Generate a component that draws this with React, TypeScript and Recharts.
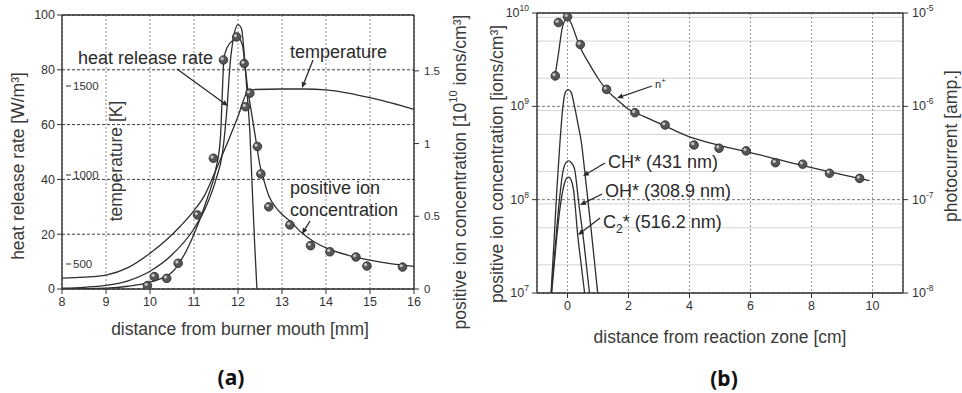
import React from 'react';
import { CartesianGrid, ComposedChart, Line, Scatter, XAxis, YAxis } from 'recharts';

const FONT = '"Liberation Sans", Arial, sans-serif';
const INK = '#333';

// ---- (a) distance from burner mouth [mm] ----
const heatX = [8, 8.5, 9, 9.5, 10, 10.5, 11, 11.3, 11.5, 11.65, 11.75, 11.82, 11.9, 12.0, 12.08, 12.14, 12.2, 12.27, 12.32, 12.38, 12.43];
const heatRate = [0.3, 0.6, 1.3, 3, 6.5, 12.5, 22, 31, 40, 50, 66, 82, 92, 96.5, 95, 86, 73, 57, 38, 16, 0];

const tempX = [8, 8.5, 9, 9.5, 10, 10.35, 10.7, 11, 11.25, 11.5, 11.75, 12.0, 12.22, 12.35, 13, 13.5, 14, 14.5, 15, 15.5, 16];
const tempK = [421, 426, 438, 480, 560, 630, 715, 800, 890, 1029, 1175, 1329, 1468, 1480, 1483, 1483, 1478, 1460, 1434, 1403, 1368];

const ionFitX = [8, 9, 9.5, 10, 10.5, 11, 11.3, 11.5, 11.6, 11.64, 11.68, 11.75, 11.9, 12.0, 12.1, 12.17, 12.23, 12.3, 12.4, 12.5, 12.6, 12.7, 12.9, 13.2, 13.45, 13.7, 14, 14.5, 15, 15.5, 16];
const ionFit = [0, 0.006, 0.019, 0.047, 0.115, 0.377, 0.622, 0.829, 1.036, 1.319, 1.583, 1.658, 1.714, 1.729, 1.677, 1.507, 1.356, 1.225, 1.036, 0.848, 0.735, 0.641, 0.546, 0.462, 0.386, 0.33, 0.283, 0.232, 0.198, 0.173, 0.156];

const ionPtX = [9.94, 10.1, 10.38, 10.64, 11.08, 11.44, 11.67, 11.97, 12.14, 12.17, 12.27, 12.44, 12.52, 12.7, 13.18, 13.65, 14.09, 14.68, 14.93, 15.74];
const ionPt = [0.023, 0.085, 0.073, 0.177, 0.509, 0.899, 1.575, 1.733, 1.55, 1.253, 1.347, 0.98, 0.791, 0.565, 0.441, 0.298, 0.256, 0.22, 0.158, 0.151];

const aTicks = [8, 9, 10, 11, 12, 13, 14, 15, 16];
const aMinorX = [8.5, 9.5, 10.5, 11.5, 12.5, 13.5, 14.5, 15.5];
const heatTicks = [0, 20, 40, 60, 80, 100];
const heatMinor = [10, 30, 50, 70, 90];
const ionTicks = [0, 0.5, 1, 1.5];
const ionMinor = [0.25, 0.75, 1.25, 1.75];
const tempTicks = [500, 1000, 1500];

// ---- (b) distance from reaction zone [cm] ----
const nFitX = [-0.43, -0.3, -0.16, 0, 0.1, 0.25, 0.4, 0.7, 1.0, 1.28, 1.6, 2.0, 2.5, 3, 4, 5, 6, 7, 8, 9, 9.9];
const nFit = [1.9e9, 3.6e9, 7.2e9, 8.8e9, 8.0e9, 6.0e9, 4.4e9, 2.9e9, 2.0e9, 1.5e9, 1.2e9, 9.3e8, 7.8e8, 6.6e8, 4.7e8, 3.8e8, 3.2e8, 2.65e8, 2.2e8, 1.85e8, 1.6e8];

const nPtX = [-0.4, -0.3, 0.0, 0.42, 1.28, 2.21, 3.2, 4.15, 4.97, 5.86, 6.82, 7.71, 8.59, 9.58];
const nPt = [2.12e9, 7.9e9, 9.1e9, 4.6e9, 1.52e9, 8.55e8, 6.3e8, 3.85e8, 3.56e8, 3.33e8, 2.49e8, 2.4e8, 1.92e8, 1.69e8];

const chX = [-0.54, -0.45, -0.35, -0.25, -0.15, -0.07, 0.02, 0.12, 0.23, 0.35, 0.45, 0.6, 0.8, 0.99];
const chAmp = [1.0e-8, 3.2e-8, 1.26e-7, 4.0e-7, 1.0e-6, 1.41e-6, 1.51e-6, 1.41e-6, 1.0e-6, 6.3e-7, 4.2e-7, 1.58e-7, 4.0e-8, 1.0e-8];
const ohX = [-0.53, -0.4, -0.28, -0.15, -0.05, 0.03, 0.12, 0.23, 0.37, 0.55, 0.72];
const ohAmp = [1.0e-8, 3.2e-8, 8.9e-8, 2.0e-7, 2.5e-7, 2.6e-7, 2.5e-7, 2.14e-7, 9.1e-8, 3.2e-8, 1.0e-8];
const c2X = [-0.52, -0.38, -0.25, -0.12, -0.03, 0.04, 0.12, 0.2, 0.34, 0.45, 0.56];
const c2Amp = [1.0e-8, 3.2e-8, 7.9e-8, 1.41e-7, 1.7e-7, 1.74e-7, 1.62e-7, 1.26e-7, 4.0e-8, 2.0e-8, 1.0e-8];

const bTicks = [0, 2, 4, 6, 8, 10];
const bMinorX = [-1, 1, 3, 5, 7, 9, 11];
const bTopX = [-1, 0, 1, 2, 3, 4, 5, 6, 7, 8, 9, 10, 11];
const ionDecades = [1e7, 1e8, 1e9, 1e10];
const ampDecades = [1e-8, 1e-7, 1e-6, 1e-5];
const mults = [2, 3, 4, 5, 6, 7, 8, 9];
const ionLogMinor = [7, 8, 9].flatMap((e) => mults.map((m) => m * 10 ** e));
const ampLogMinor = [-8, -7, -6].flatMap((e) => mults.map((m) => m * 10 ** e));

const zip = (xs: number[], ys: number[]) => xs.map((x, i) => ({ x, y: ys[i] }));

const tickStyle = { fontSize: 12.5, fill: INK, fontFamily: FONT };
const axisLine = { stroke: INK, strokeWidth: 1.4 };
const tickLine = { stroke: INK, strokeWidth: 1 };

const Ball = (props: any) => {
  const { cx, cy } = props;
  if (cx == null || cy == null) return null;
  return (
    <g>
      <circle cx={cx} cy={cy} r={4.3} fill="#565656" stroke="#262626" strokeWidth={0.8} />
      <circle cx={cx - 1.3} cy={cy - 1.3} r={1.6} fill="#c4c4c4" />
    </g>
  );
};

const TTick = (p: any) => (
  <g>
    <line x1={p.x + 3} x2={p.x + 8} y1={p.y} y2={p.y} stroke={INK} />
    <text x={p.x + 10} y={p.y} dy={4} fontSize={11.5} fill={INK} fontFamily={FONT}>{p.payload.value}</text>
  </g>
);

const PowTick = (p: any) => {
  const e = Math.round(Math.log10(p.payload.value));
  return (
    <text x={p.x} y={p.y} dy={4} textAnchor={p.textAnchor} fontSize={12.5} fill={INK} fontFamily={FONT}>
      10<tspan dy={-6} fontSize={8.5}>{e}</tspan>
    </text>
  );
};

const Arrow = ({ x1, y1, x2, y2 }: { x1: number; y1: number; x2: number; y2: number }) => {
  const a = Math.atan2(y2 - y1, x2 - x1);
  const L = 6, W = 2.6;
  const bx = x2 - L * Math.cos(a), by = y2 - L * Math.sin(a);
  const px = -Math.sin(a) * W, py = Math.cos(a) * W;
  return (
    <g>
      <line x1={x1} y1={y1} x2={bx} y2={by} stroke="#2a2a2a" strokeWidth={1.3} />
      <polygon points={`${x2},${y2} ${bx + px},${by + py} ${bx - px},${by - py}`} fill="#2a2a2a" />
    </g>
  );
};

const ChartA = () => (
  <ComposedChart width={480} height={393} margin={{ top: 15, right: 26, bottom: 74, left: 22 }}>
    <CartesianGrid xAxisId="x" yAxisId="L" vertical={false} stroke="#3a3a3a" strokeDasharray="3 2" />
    <CartesianGrid xAxisId="x" yAxisId="L" horizontal={false} stroke="#8a8a8a" strokeDasharray="2 2" />
    <XAxis xAxisId="x" dataKey="x" type="number" domain={[8, 16]} allowDataOverflow ticks={aTicks} height={30}
      tickSize={5} tickMargin={3} axisLine={axisLine} tickLine={tickLine} tick={tickStyle} />
    <XAxis xAxisId="xm" type="number" domain={[8, 16]} allowDataOverflow ticks={aMinorX} mirror height={1}
      tick={false} axisLine={false} tickSize={4} tickLine={tickLine} />
    <XAxis xAxisId="top" orientation="top" type="number" domain={[8, 16]} allowDataOverflow ticks={aTicks} mirror height={1}
      tick={false} axisLine={axisLine} tickSize={4} tickLine={tickLine} />
    <YAxis yAxisId="L" type="number" domain={[0, 100]} allowDataOverflow ticks={heatTicks} width={40}
      tickSize={5} tickMargin={2} axisLine={axisLine} tickLine={tickLine} tick={tickStyle} />
    <YAxis yAxisId="Lm" type="number" domain={[0, 100]} allowDataOverflow ticks={heatMinor} mirror width={1}
      tick={false} axisLine={false} tickSize={4} tickLine={tickLine} />
    <YAxis yAxisId="R" orientation="right" type="number" domain={[0, 1.884]} allowDataOverflow ticks={ionTicks} width={40}
      tickSize={5} tickMargin={5} axisLine={axisLine} tickLine={tickLine} tick={{ ...tickStyle, fontSize: 11.5 }} />
    <YAxis yAxisId="Rm" orientation="right" type="number" domain={[0, 1.884]} allowDataOverflow ticks={ionMinor} mirror width={1}
      tick={false} axisLine={false} tickSize={4} tickLine={tickLine} />
    <YAxis yAxisId="T" type="number" domain={[359.6, 1898.6]} allowDataOverflow ticks={tempTicks} mirror width={1}
      axisLine={false} tickLine={false} tickSize={0} tickMargin={0} tick={TTick} />
    <Line xAxisId="x" yAxisId="T" data={zip(tempX, tempK)} dataKey="y" type="monotone" stroke="#2e2e2e" strokeWidth={1.3} dot={false} isAnimationActive={false} />
    <Line xAxisId="x" yAxisId="L" data={zip(heatX, heatRate)} dataKey="y" type="monotone" stroke="#2e2e2e" strokeWidth={1.3} dot={false} isAnimationActive={false} />
    <Line xAxisId="x" yAxisId="R" data={zip(ionFitX, ionFit)} dataKey="y" type="monotone" stroke="#2e2e2e" strokeWidth={1.3} dot={false} isAnimationActive={false} />
    <Scatter xAxisId="x" yAxisId="R" data={zip(ionPtX, ionPt)} dataKey="y" shape={Ball} isAnimationActive={false} />
  </ComposedChart>
);

const ChartB = () => (
  <ComposedChart width={482} height={393} margin={{ top: 13, right: 19, bottom: 70, left: 17 }}>
    <CartesianGrid xAxisId="x" yAxisId="L" vertical={false} horizontalValues={ionLogMinor} stroke="#d2d2d2" />
    <CartesianGrid xAxisId="x" yAxisId="L" vertical={false} stroke="#777" strokeDasharray="3 2" />
    <CartesianGrid xAxisId="x" yAxisId="L" horizontal={false} stroke="#999" strokeDasharray="2 2" />
    <XAxis xAxisId="x" dataKey="x" type="number" domain={[-1, 11]} allowDataOverflow ticks={bTicks} height={30}
      tickSize={5} tickMargin={3} axisLine={axisLine} tickLine={tickLine} tick={tickStyle} />
    <XAxis xAxisId="xm" type="number" domain={[-1, 11]} allowDataOverflow ticks={bMinorX} mirror height={1}
      tick={false} axisLine={false} tickSize={4} tickLine={tickLine} />
    <XAxis xAxisId="top" orientation="top" type="number" domain={[-1, 11]} allowDataOverflow ticks={bTopX} mirror height={1}
      tick={false} axisLine={axisLine} tickSize={4} tickLine={tickLine} />
    <YAxis yAxisId="L" type="number" scale="log" domain={[1e7, 1e10]} allowDataOverflow ticks={ionDecades} width={40}
      tickSize={5} tickMargin={3} axisLine={axisLine} tickLine={tickLine} tick={PowTick} />
    <YAxis yAxisId="Lm" type="number" scale="log" domain={[1e7, 1e10]} allowDataOverflow ticks={ionLogMinor} mirror width={1}
      tick={false} axisLine={false} tickSize={4} tickLine={tickLine} />
    <YAxis yAxisId="R" orientation="right" type="number" scale="log" domain={[1e-8, 1e-5]} allowDataOverflow ticks={ampDecades} width={40}
      tickSize={5} tickMargin={4} axisLine={axisLine} tickLine={tickLine} tick={PowTick} />
    <YAxis yAxisId="Rm" orientation="right" type="number" scale="log" domain={[1e-8, 1e-5]} allowDataOverflow ticks={ampLogMinor} mirror width={1}
      tick={false} axisLine={false} tickSize={4} tickLine={tickLine} />
    <Line xAxisId="x" yAxisId="R" data={zip(chX, chAmp)} dataKey="y" type="monotone" stroke="#2e2e2e" strokeWidth={1.3} dot={false} isAnimationActive={false} />
    <Line xAxisId="x" yAxisId="R" data={zip(ohX, ohAmp)} dataKey="y" type="monotone" stroke="#2e2e2e" strokeWidth={1.3} dot={false} isAnimationActive={false} />
    <Line xAxisId="x" yAxisId="R" data={zip(c2X, c2Amp)} dataKey="y" type="monotone" stroke="#2e2e2e" strokeWidth={1.3} dot={false} isAnimationActive={false} />
    <Line xAxisId="x" yAxisId="L" data={zip(nFitX, nFit)} dataKey="y" type="monotone" stroke="#2e2e2e" strokeWidth={1.3} dot={false} isAnimationActive={false} />
    <Scatter xAxisId="x" yAxisId="L" data={zip(nPtX, nPt)} dataKey="y" shape={Ball} isAnimationActive={false} />
  </ComposedChart>
);

const title = { fontSize: 17.5, fill: '#3a3a3a', fontFamily: FONT };
const note = { fontSize: 18, fill: '#2a2a2a', fontFamily: FONT };

const Rot = ({ x, y, children }: { x: number; y: number; children: React.ReactNode }) => (
  <text x={x} y={y} textAnchor="middle" dominantBaseline="central" transform={`rotate(-90 ${x} ${y})`} {...title}>
    {children}
  </text>
);

const Overlay = () => (
  <svg width={962} height={393} style={{ position: 'absolute', left: 0, top: 0, pointerEvents: 'none' }}>
    {/* panel (a) */}
    <Rot x={18} y={166}>heat release rate [W/m³]</Rot>
    <Rot x={116} y={161}>temperature [K]</Rot>
    <Rot x={460} y={172}>
      positive ion concentration [10<tspan dy={-7} fontSize={11}>10</tspan><tspan dy={7}> ions/cm³]</tspan>
    </Rot>
    <text x={240} y={329} textAnchor="middle" dominantBaseline="central" {...title}>distance from burner mouth [mm]</text>
    <text x={231} y={377} textAnchor="middle" dominantBaseline="central" fontSize={21} fontWeight="bold" fill="#111" fontFamily='"Noto Sans", sans-serif'>(a)</text>
    <text x={78} y={64} {...note}>heat release rate</text>
    <Arrow x1={177} y1={69} x2={228} y2={106} />
    <text x={290} y={58} {...note}>temperature</text>
    <Arrow x1={313} y1={60} x2={302} y2={88} />
    <text x={290} y={194} {...note}>positive ion</text>
    <text x={290} y={216} {...note}>concentration</text>
    <Arrow x1={310} y1={221} x2={302} y2={234} />

    {/* panel (b) */}
    <Rot x={497} y={164}>positive ion concentration [ions/cm³]</Rot>
    <Rot x={951} y={146}>photocurrent [amp.]</Rot>
    <text x={720} y={337} textAnchor="middle" dominantBaseline="central" {...title}>distance from reaction zone [cm]</text>
    <text x={724} y={378} textAnchor="middle" dominantBaseline="central" fontSize={21} fontWeight="bold" fill="#111" fontFamily='"Noto Sans", sans-serif'>(b)</text>
    <text x={655} y={88} fontSize={11} fill="#2a2a2a" fontFamily={FONT}>n<tspan dy={-5} fontSize={8}>+</tspan></text>
    <Arrow x1={652} y1={86} x2={617} y2={98} />
    <text x={608} y={168} {...note}>CH* (431 nm)</text>
    <Arrow x1={605} y1={163} x2={583} y2={176} />
    <text x={605} y={197} {...note}>OH* (308.9 nm)</text>
    <Arrow x1={602} y1={194} x2={580} y2={205} />
    <text x={603} y={228} {...note}>C<tspan dy={5} fontSize={12}>2</tspan><tspan dy={-5}>* (516.2 nm)</tspan></text>
    <Arrow x1={600} y1={218} x2={578} y2={235} />
  </svg>
);

export default function App() {
  return (
    <div style={{ position: 'absolute', left: 0, top: 0, width: 962, height: 393, background: '#fff', overflow: 'hidden' }}>
      <div style={{ position: 'absolute', left: 0, top: 0 }}>
        <ChartA />
      </div>
      <div style={{ position: 'absolute', left: 480, top: 0 }}>
        <ChartB />
      </div>
      <Overlay />
    </div>
  );
}
